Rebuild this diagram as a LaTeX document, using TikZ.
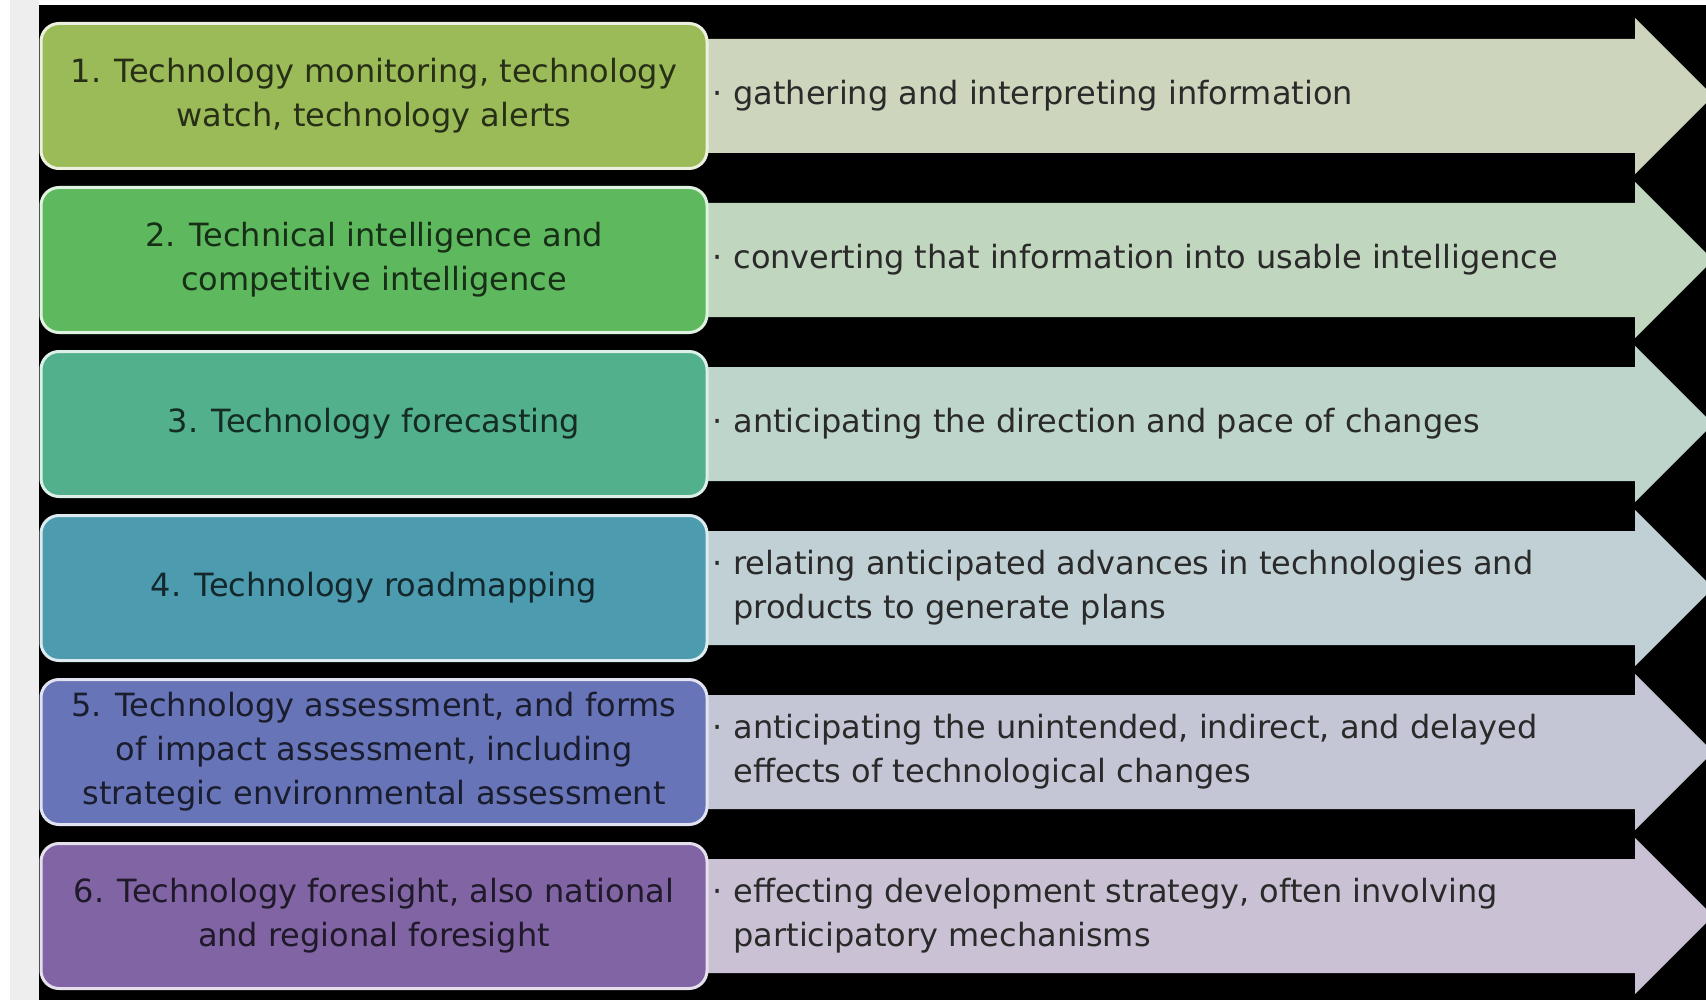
\documentclass[tikz,border=0pt]{standalone}
\usepackage{fontspec}
\setmainfont{DejaVu Sans}
\definecolor{cA}{RGB}{155,187,89}
\definecolor{cB}{RGB}{94,184,94}
\definecolor{cC}{RGB}{82,176,140}
\definecolor{cD}{RGB}{76,155,175}
\definecolor{cE}{RGB}{104,116,184}
\definecolor{cF}{RGB}{128,100,164}
\definecolor{aA}{RGB}{205,213,188}
\definecolor{aB}{RGB}{193,214,190}
\definecolor{aC}{RGB}{190,213,203}
\definecolor{aD}{RGB}{192,208,212}
\definecolor{aE}{RGB}{196,198,214}
\definecolor{aF}{RGB}{202,194,212}
\definecolor{desctext}{RGB}{42,42,42}
\definecolor{stripgray}{RGB}{238,238,238}
\tikzset{
  stagebox/.style={rounded corners=9pt, minimum width=333pt, minimum height=72.5pt,
    line width=1.5pt, align=center, inner sep=2pt,
    font=\fontsize{16}{22}\selectfont},
  desc/.style={anchor=west, inner sep=0pt, text=desctext,
    font=\fontsize{16}{22}\selectfont},
  band/.style={draw=none}
}
\newcommand{\bul}{\makebox[10.5pt][l]{·}}
\begin{document}
\begin{tikzpicture}[x=0.5pt,y=-0.5pt]
\useasboundingbox (0,0) rectangle (1706,1000);
\fill[white] (0,0) rectangle (1706,1000);
\fill[stripgray] (10,0) rectangle (39,1000);
\fill[black] (39,5) rectangle (1706,1000);
% arrows
\foreach \i/\ac in {0/aA,1/aB,2/aC,3/aD,4/aE,5/aF}{
  \pgfmathsetmacro{\c}{96+164*\i}
  \fill[band, fill=\ac] (690,\c-57) -- (1635,\c-57) -- (1635,\c-78) -- (1713,\c)
     -- (1635,\c+78) -- (1635,\c+57) -- (690,\c+57) -- cycle;
}
% boxes
\node[stagebox, fill=cA, draw=white!80!cA, text=cA!25!black] (b1) at (374,96)
  {1. Technology monitoring, technology\\watch, technology alerts};
\node[stagebox, fill=cB, draw=white!80!cB, text=cB!25!black] (b2) at (374,260)
  {2. Technical intelligence and\\competitive intelligence};
\node[stagebox, fill=cC, draw=white!80!cC, text=cC!25!black] (b3) at (374,424)
  {3. Technology forecasting};
\node[stagebox, fill=cD, draw=white!80!cD, text=cD!25!black] (b4) at (374,588)
  {4. Technology roadmapping};
\node[stagebox, fill=cE, draw=white!80!cE, text=cE!25!black] (b5) at (374,752)
  {5. Technology assessment, and forms\\of impact assessment, including\\strategic environmental assessment};
\node[stagebox, fill=cF, draw=white!80!cF, text=cF!25!black] (b6) at (374,916)
  {6. Technology foresight, also national\\and regional foresight};
% descriptions
\node[desc] (d1) at (712,96) {\bul gathering and interpreting information};
\node[desc] (d2) at (712,260) {\bul converting that information into usable intelligence};
\node[desc] (d3) at (712,424) {\bul anticipating the direction and pace of changes};
\node[desc, align=left] (d4) at (712,588)
  {\bul relating anticipated advances in technologies and\\\hspace*{10.5pt}products to generate plans};
\node[desc, align=left] (d5) at (712,752)
  {\bul anticipating the unintended, indirect, and delayed\\\hspace*{10.5pt}effects of technological changes};
\node[desc, align=left] (d6) at (712,916)
  {\bul effecting development strategy, often involving\\\hspace*{10.5pt}participatory mechanisms};
\end{tikzpicture}
\end{document}
